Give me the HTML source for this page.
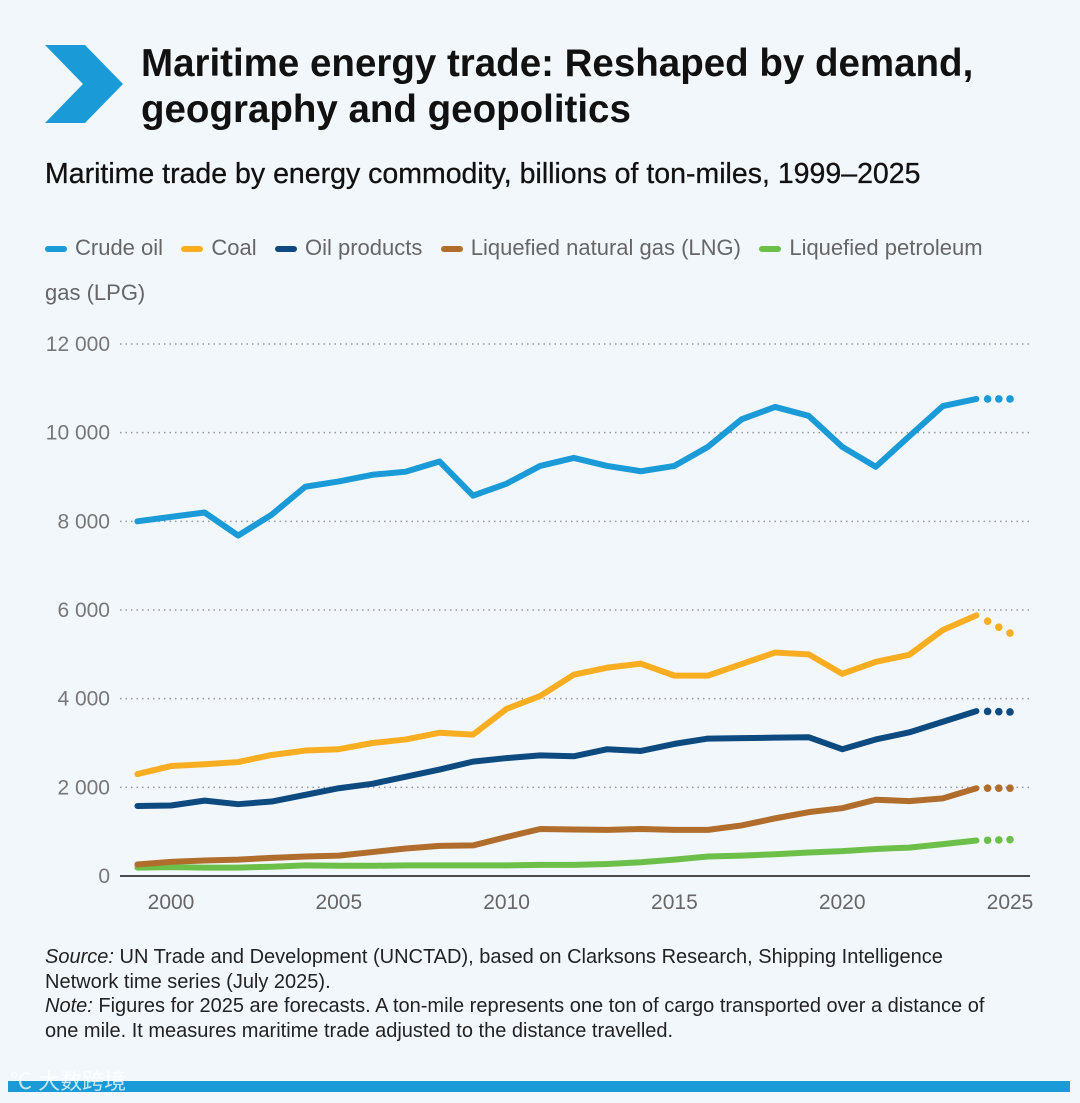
<!DOCTYPE html>
<html><head><meta charset="utf-8"><style>
body{margin:0;width:1080px;height:1103px;background:#f2f7fc;font-family:"Liberation Sans",Arial,sans-serif;position:relative;overflow:hidden}
.t{position:absolute;margin:0}
</style></head><body>
<svg style="position:absolute;left:45px;top:45px" width="78" height="78"><polygon points="0,0 40,0 78,39 40,78 0,78 38,39" fill="#1a9ad6"/></svg>
<h1 class="t" style="left:141px;top:41px;font-size:38.5px;line-height:46px;font-weight:bold;color:#111;white-space:nowrap">Maritime energy trade: Reshaped by demand,<br>geography and geopolitics</h1>
<div class="t" style="left:45px;top:158px;font-size:28.5px;color:#111;white-space:nowrap;-webkit-text-stroke:0.3px #111">Maritime trade by energy commodity, billions of ton-miles, 1999–2025</div>
<div class="t" style="left:45px;top:225px;width:975px;font-size:22px;line-height:45px;color:#666">
<span><span style="display:inline-block;width:22px;height:6px;background:#1a9ad6;vertical-align:middle;margin-right:8px;border-radius:3px"></span>Crude oil</span>&nbsp;&nbsp;
<span><span style="display:inline-block;width:22px;height:6px;background:#f9ae21;vertical-align:middle;margin-right:8px;border-radius:3px"></span>Coal</span>&nbsp;&nbsp;
<span><span style="display:inline-block;width:22px;height:6px;background:#0d4a80;vertical-align:middle;margin-right:8px;border-radius:3px"></span>Oil products</span>&nbsp;&nbsp;
<span><span style="display:inline-block;width:22px;height:6px;background:#b06d2c;vertical-align:middle;margin-right:8px;border-radius:3px"></span>Liquefied natural gas (LNG)</span>&nbsp;&nbsp;
<span><span style="display:inline-block;width:22px;height:6px;background:#6cc04a;vertical-align:middle;margin-right:8px;border-radius:3px"></span>Liquefied petroleum gas (LPG)</span>
</div>
<svg id="chart" style="position:absolute;left:0;top:0" width="1080" height="930"></svg>
<div class="t" style="left:45px;top:945px;width:992px;font-size:20px;line-height:24.5px;color:#222"><i>Source:</i> UN Trade and Development (UNCTAD), based on Clarksons Research, Shipping Intelligence<br>Network time series (July 2025).<br><i>Note:</i> Figures for 2025 are forecasts. A ton-mile represents one ton of cargo transported over a distance of<br>one mile. It measures maritime trade adjusted to the distance travelled.</div>
<div style="position:absolute;left:8px;top:1081px;width:1062px;height:11px;background:#1a9ad6"></div>
<div class="t" style="left:10px;top:1068px;font-size:22px;line-height:28px;color:rgba(255,255,255,0.75);font-family:'Liberation Sans','Noto Sans CJK SC',sans-serif">℃ 大数跨境</div>
<script>
const years=[1999,2000,2001,2002,2003,2004,2005,2006,2007,2008,2009,2010,2011,2012,2013,2014,2015,2016,2017,2018,2019,2020,2021,2022,2023,2024,2025];
const crude=[8000,8100,8200,7680,8150,8780,8900,9050,9120,9350,8580,8850,9250,9430,9250,9130,9250,9680,10300,10580,10380,9680,9230,9920,10600,10760,10760];
const coal=[2300,2480,2520,2570,2730,2830,2860,3000,3080,3230,3190,3770,4060,4540,4700,4790,4520,4520,4780,5040,5000,4560,4830,4990,5550,5880,5480];
const oilProducts=[1580,1590,1700,1620,1680,1830,1980,2080,2240,2400,2580,2660,2720,2700,2860,2820,2980,3100,3110,3120,3130,2860,3080,3240,3480,3720,3700];
const lng=[260,320,350,370,410,440,460,540,620,680,690,880,1060,1050,1040,1060,1040,1040,1140,1300,1440,1530,1720,1690,1750,1980,1980];
const lpg=[190,200,190,190,210,240,230,230,240,240,240,240,250,250,270,310,370,440,460,490,530,560,610,640,720,800,820];
const yTicks=[0,2000,4000,6000,8000,10000,12000];
const yTickLabels=["0","2 000","4 000","6 000","8 000","10 000","12 000"];
const xTicks=[2000,2005,2010,2015,2020,2025];
const svg=document.getElementById('chart');const NS='http://www.w3.org/2000/svg';
const X=y=>171+(y-2000)*33.56;const Y=v=>876-v*(532/12000);
function mk(t,a){const e=document.createElementNS(NS,t);for(const k in a)e.setAttribute(k,a[k]);svg.appendChild(e);return e;}
yTicks.forEach((v,i)=>{
 if(v>0){const g=mk('line',{x1:120,x2:1030,y1:Y(v),y2:Y(v),stroke:'#999','stroke-width':1.5,'stroke-dasharray':'1.5 4'});
 
 }
 const t=mk('text',{x:110,y:Y(v)+7,'text-anchor':'end','font-size':21,fill:'#777'});t.textContent=yTickLabels[i];
 
 
});
const ax=mk('line',{x1:120,x2:1030,y1:876,y2:876,stroke:'#111','stroke-width':1.5});


xTicks.forEach(y=>{const t=mk('text',{x:X(y),y:909,'text-anchor':'middle','font-size':21,fill:'#666'});t.textContent=y;
 
 });
const series=[[lpg,'#6cc04a','lpg'],[lng,'#b06d2c','lng'],[oilProducts,'#0d4a80','oil-products'],[coal,'#f9ae21','coal'],[crude,'#1a9ad6','crude-oil']];
series.forEach(([d,c,n])=>{
 const n1=d.length-1;
 const pts=d.slice(0,n1).map((v,i)=>X(years[i])+','+Y(v)).join(' ');
 const p=mk('polyline',{points:pts,fill:'none',stroke:c,'stroke-width':6,'stroke-linejoin':'round','stroke-linecap':'round'});
 
 
 const x0=X(years[n1-1]),y0=Y(d[n1-1]),x1=X(years[n1]),y1=Y(d[n1]);
 for(let k=1;k<=3;k++){const c2=mk('circle',{cx:x0+(x1-x0)*k/3,cy:y0+(y1-y0)*k/3,r:3.8,fill:c});
  
  }
});
</script>
</body></html>
